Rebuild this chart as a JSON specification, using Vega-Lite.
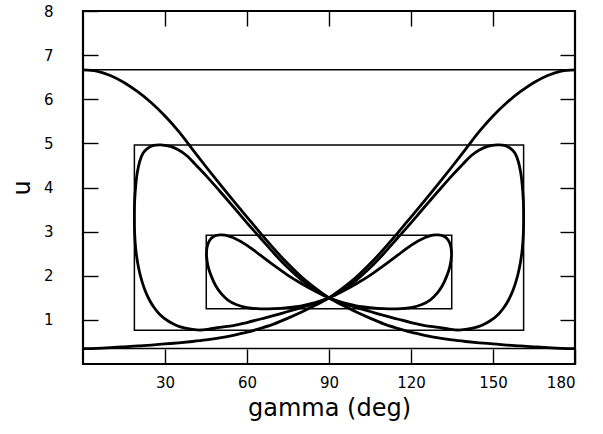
{
  "$schema": "https://vega.github.io/schema/vega-lite/v6.json",
  "autosize": "none",
  "width": 492,
  "height": 353,
  "padding": {"left": 83, "top": 11, "right": 28, "bottom": 70},
  "config": {
    "font": "DejaVu Sans",
    "view": {"stroke": "black", "strokeWidth": 2.2},
    "axis": {
      "domain": false,
      "grid": false,
      "tickColor": "black",
      "tickWidth": 1.4,
      "tickSize": -15,
      "labelColor": "black",
      "labelFont": "DejaVu Sans",
      "labelFontSize": 15,
      "titleColor": "black",
      "titleFont": "DejaVu Sans",
      "titleFontSize": 24,
      "titleFontWeight": "normal"
    }
  },
  "datasets": {
    "boxes": [
      {"box": "outer", "g0": 0, "g1": 180, "u0": 0.35, "u1": 6.667},
      {"box": "middle", "g0": 18.8, "g1": 161.2, "u0": 0.765, "u1": 4.965},
      {"box": "inner", "g0": 45.1, "g1": 134.9, "u0": 1.25, "u1": 2.92}
    ],
    "curves": [
      {"curve": "A", "i": 0, "gamma": 0, "u": 6.667},
      {"curve": "A", "i": 1, "gamma": 5, "u": 6.64},
      {"curve": "A", "i": 2, "gamma": 10, "u": 6.54},
      {"curve": "A", "i": 3, "gamma": 15, "u": 6.38},
      {"curve": "A", "i": 4, "gamma": 20, "u": 6.17},
      {"curve": "A", "i": 5, "gamma": 25, "u": 5.92},
      {"curve": "A", "i": 6, "gamma": 30, "u": 5.62},
      {"curve": "A", "i": 7, "gamma": 35, "u": 5.27},
      {"curve": "A", "i": 8, "gamma": 40, "u": 4.87},
      {"curve": "A", "i": 9, "gamma": 45, "u": 4.47},
      {"curve": "A", "i": 10, "gamma": 50, "u": 4.08},
      {"curve": "A", "i": 11, "gamma": 55, "u": 3.70},
      {"curve": "A", "i": 12, "gamma": 60, "u": 3.33},
      {"curve": "A", "i": 13, "gamma": 65, "u": 2.96},
      {"curve": "A", "i": 14, "gamma": 70, "u": 2.60},
      {"curve": "A", "i": 15, "gamma": 75, "u": 2.27},
      {"curve": "A", "i": 16, "gamma": 80, "u": 1.97},
      {"curve": "A", "i": 17, "gamma": 85, "u": 1.72},
      {"curve": "A", "i": 18, "gamma": 90, "u": 1.50},
      {"curve": "A", "i": 19, "gamma": 95, "u": 1.33},
      {"curve": "A", "i": 20, "gamma": 100, "u": 1.18},
      {"curve": "A", "i": 21, "gamma": 105, "u": 1.04},
      {"curve": "A", "i": 22, "gamma": 110, "u": 0.91},
      {"curve": "A", "i": 23, "gamma": 115, "u": 0.81},
      {"curve": "A", "i": 24, "gamma": 120, "u": 0.72},
      {"curve": "A", "i": 25, "gamma": 125, "u": 0.65},
      {"curve": "A", "i": 26, "gamma": 130, "u": 0.59},
      {"curve": "A", "i": 27, "gamma": 135, "u": 0.545},
      {"curve": "A", "i": 28, "gamma": 140, "u": 0.51},
      {"curve": "A", "i": 29, "gamma": 145, "u": 0.48},
      {"curve": "A", "i": 30, "gamma": 150, "u": 0.455},
      {"curve": "A", "i": 31, "gamma": 155, "u": 0.43},
      {"curve": "A", "i": 32, "gamma": 160, "u": 0.41},
      {"curve": "A", "i": 33, "gamma": 165, "u": 0.39},
      {"curve": "A", "i": 34, "gamma": 170, "u": 0.37},
      {"curve": "A", "i": 35, "gamma": 175, "u": 0.355},
      {"curve": "A", "i": 36, "gamma": 180, "u": 0.35},

      {"curve": "B", "i": 0, "gamma": 180, "u": 6.667},
      {"curve": "B", "i": 1, "gamma": 175, "u": 6.64},
      {"curve": "B", "i": 2, "gamma": 170, "u": 6.54},
      {"curve": "B", "i": 3, "gamma": 165, "u": 6.38},
      {"curve": "B", "i": 4, "gamma": 160, "u": 6.17},
      {"curve": "B", "i": 5, "gamma": 155, "u": 5.92},
      {"curve": "B", "i": 6, "gamma": 150, "u": 5.62},
      {"curve": "B", "i": 7, "gamma": 145, "u": 5.27},
      {"curve": "B", "i": 8, "gamma": 140, "u": 4.87},
      {"curve": "B", "i": 9, "gamma": 135, "u": 4.47},
      {"curve": "B", "i": 10, "gamma": 130, "u": 4.08},
      {"curve": "B", "i": 11, "gamma": 125, "u": 3.70},
      {"curve": "B", "i": 12, "gamma": 120, "u": 3.33},
      {"curve": "B", "i": 13, "gamma": 115, "u": 2.96},
      {"curve": "B", "i": 14, "gamma": 110, "u": 2.60},
      {"curve": "B", "i": 15, "gamma": 105, "u": 2.27},
      {"curve": "B", "i": 16, "gamma": 100, "u": 1.97},
      {"curve": "B", "i": 17, "gamma": 95, "u": 1.72},
      {"curve": "B", "i": 18, "gamma": 90, "u": 1.50},
      {"curve": "B", "i": 19, "gamma": 85, "u": 1.33},
      {"curve": "B", "i": 20, "gamma": 80, "u": 1.18},
      {"curve": "B", "i": 21, "gamma": 75, "u": 1.04},
      {"curve": "B", "i": 22, "gamma": 70, "u": 0.91},
      {"curve": "B", "i": 23, "gamma": 65, "u": 0.81},
      {"curve": "B", "i": 24, "gamma": 60, "u": 0.72},
      {"curve": "B", "i": 25, "gamma": 55, "u": 0.65},
      {"curve": "B", "i": 26, "gamma": 50, "u": 0.59},
      {"curve": "B", "i": 27, "gamma": 45, "u": 0.545},
      {"curve": "B", "i": 28, "gamma": 40, "u": 0.51},
      {"curve": "B", "i": 29, "gamma": 35, "u": 0.48},
      {"curve": "B", "i": 30, "gamma": 30, "u": 0.455},
      {"curve": "B", "i": 31, "gamma": 25, "u": 0.43},
      {"curve": "B", "i": 32, "gamma": 20, "u": 0.41},
      {"curve": "B", "i": 33, "gamma": 15, "u": 0.39},
      {"curve": "B", "i": 34, "gamma": 10, "u": 0.37},
      {"curve": "B", "i": 35, "gamma": 5, "u": 0.355},
      {"curve": "B", "i": 36, "gamma": 0, "u": 0.35},

      {"curve": "M", "i": 0, "gamma": 28.5, "u": 4.965},
      {"curve": "M", "i": 1, "gamma": 32, "u": 4.93},
      {"curve": "M", "i": 2, "gamma": 35, "u": 4.85},
      {"curve": "M", "i": 3, "gamma": 38, "u": 4.72},
      {"curve": "M", "i": 4, "gamma": 41, "u": 4.53},
      {"curve": "M", "i": 5, "gamma": 45, "u": 4.27},
      {"curve": "M", "i": 6, "gamma": 50, "u": 3.92},
      {"curve": "M", "i": 7, "gamma": 56, "u": 3.49},
      {"curve": "M", "i": 8, "gamma": 60, "u": 3.20},
      {"curve": "M", "i": 9, "gamma": 65, "u": 2.85},
      {"curve": "M", "i": 10, "gamma": 70, "u": 2.50},
      {"curve": "M", "i": 11, "gamma": 75, "u": 2.18},
      {"curve": "M", "i": 12, "gamma": 80, "u": 1.90},
      {"curve": "M", "i": 13, "gamma": 85, "u": 1.68},
      {"curve": "M", "i": 14, "gamma": 90, "u": 1.50},
      {"curve": "M", "i": 15, "gamma": 95, "u": 1.38},
      {"curve": "M", "i": 16, "gamma": 100, "u": 1.28},
      {"curve": "M", "i": 17, "gamma": 105, "u": 1.19},
      {"curve": "M", "i": 18, "gamma": 110, "u": 1.10},
      {"curve": "M", "i": 19, "gamma": 115, "u": 1.02},
      {"curve": "M", "i": 20, "gamma": 120, "u": 0.94},
      {"curve": "M", "i": 21, "gamma": 125, "u": 0.87},
      {"curve": "M", "i": 22, "gamma": 130, "u": 0.83},
      {"curve": "M", "i": 23, "gamma": 134, "u": 0.79},
      {"curve": "M", "i": 24, "gamma": 137, "u": 0.77},
      {"curve": "M", "i": 25, "gamma": 140, "u": 0.785},
      {"curve": "M", "i": 26, "gamma": 143, "u": 0.82},
      {"curve": "M", "i": 27, "gamma": 146, "u": 0.88},
      {"curve": "M", "i": 28, "gamma": 149, "u": 0.98},
      {"curve": "M", "i": 29, "gamma": 152, "u": 1.13},
      {"curve": "M", "i": 30, "gamma": 154, "u": 1.28},
      {"curve": "M", "i": 31, "gamma": 155.7, "u": 1.45},
      {"curve": "M", "i": 32, "gamma": 157.5, "u": 1.70},
      {"curve": "M", "i": 33, "gamma": 159, "u": 2.0},
      {"curve": "M", "i": 34, "gamma": 160, "u": 2.29},
      {"curve": "M", "i": 35, "gamma": 160.7, "u": 2.6},
      {"curve": "M", "i": 36, "gamma": 161.1, "u": 2.95},
      {"curve": "M", "i": 37, "gamma": 161.2, "u": 3.3},
      {"curve": "M", "i": 38, "gamma": 161.1, "u": 3.7},
      {"curve": "M", "i": 39, "gamma": 160.7, "u": 4.05},
      {"curve": "M", "i": 40, "gamma": 160.1, "u": 4.35},
      {"curve": "M", "i": 41, "gamma": 159.2, "u": 4.6},
      {"curve": "M", "i": 42, "gamma": 158, "u": 4.78},
      {"curve": "M", "i": 43, "gamma": 156.5, "u": 4.88},
      {"curve": "M", "i": 44, "gamma": 154.5, "u": 4.95},
      {"curve": "M", "i": 45, "gamma": 151.5, "u": 4.965},
      {"curve": "M", "i": 46, "gamma": 148, "u": 4.93},
      {"curve": "M", "i": 47, "gamma": 145, "u": 4.85},
      {"curve": "M", "i": 48, "gamma": 142, "u": 4.72},
      {"curve": "M", "i": 49, "gamma": 139, "u": 4.53},
      {"curve": "M", "i": 50, "gamma": 135, "u": 4.27},
      {"curve": "M", "i": 51, "gamma": 130, "u": 3.92},
      {"curve": "M", "i": 52, "gamma": 124, "u": 3.49},
      {"curve": "M", "i": 53, "gamma": 120, "u": 3.20},
      {"curve": "M", "i": 54, "gamma": 115, "u": 2.85},
      {"curve": "M", "i": 55, "gamma": 110, "u": 2.50},
      {"curve": "M", "i": 56, "gamma": 105, "u": 2.18},
      {"curve": "M", "i": 57, "gamma": 100, "u": 1.90},
      {"curve": "M", "i": 58, "gamma": 95, "u": 1.68},
      {"curve": "M", "i": 59, "gamma": 90, "u": 1.50},
      {"curve": "M", "i": 60, "gamma": 85, "u": 1.38},
      {"curve": "M", "i": 61, "gamma": 80, "u": 1.28},
      {"curve": "M", "i": 62, "gamma": 75, "u": 1.19},
      {"curve": "M", "i": 63, "gamma": 70, "u": 1.10},
      {"curve": "M", "i": 64, "gamma": 65, "u": 1.02},
      {"curve": "M", "i": 65, "gamma": 60, "u": 0.94},
      {"curve": "M", "i": 66, "gamma": 55, "u": 0.87},
      {"curve": "M", "i": 67, "gamma": 50, "u": 0.83},
      {"curve": "M", "i": 68, "gamma": 46, "u": 0.79},
      {"curve": "M", "i": 69, "gamma": 43, "u": 0.77},
      {"curve": "M", "i": 70, "gamma": 40, "u": 0.785},
      {"curve": "M", "i": 71, "gamma": 37, "u": 0.82},
      {"curve": "M", "i": 72, "gamma": 34, "u": 0.88},
      {"curve": "M", "i": 73, "gamma": 31, "u": 0.98},
      {"curve": "M", "i": 74, "gamma": 28, "u": 1.13},
      {"curve": "M", "i": 75, "gamma": 26, "u": 1.28},
      {"curve": "M", "i": 76, "gamma": 24.3, "u": 1.45},
      {"curve": "M", "i": 77, "gamma": 22.5, "u": 1.70},
      {"curve": "M", "i": 78, "gamma": 21, "u": 2.0},
      {"curve": "M", "i": 79, "gamma": 20, "u": 2.29},
      {"curve": "M", "i": 80, "gamma": 19.3, "u": 2.6},
      {"curve": "M", "i": 81, "gamma": 18.9, "u": 2.95},
      {"curve": "M", "i": 82, "gamma": 18.8, "u": 3.3},
      {"curve": "M", "i": 83, "gamma": 18.9, "u": 3.7},
      {"curve": "M", "i": 84, "gamma": 19.3, "u": 4.05},
      {"curve": "M", "i": 85, "gamma": 19.9, "u": 4.35},
      {"curve": "M", "i": 86, "gamma": 20.8, "u": 4.6},
      {"curve": "M", "i": 87, "gamma": 22, "u": 4.78},
      {"curve": "M", "i": 88, "gamma": 23.5, "u": 4.88},
      {"curve": "M", "i": 89, "gamma": 25.5, "u": 4.95},
      {"curve": "M", "i": 90, "gamma": 28.5, "u": 4.965},

      {"curve": "N", "i": 0, "gamma": 50, "u": 2.925},
      {"curve": "N", "i": 1, "gamma": 52, "u": 2.92},
      {"curve": "N", "i": 2, "gamma": 55, "u": 2.86},
      {"curve": "N", "i": 3, "gamma": 60, "u": 2.69},
      {"curve": "N", "i": 4, "gamma": 65, "u": 2.46},
      {"curve": "N", "i": 5, "gamma": 70, "u": 2.23},
      {"curve": "N", "i": 6, "gamma": 75, "u": 2.01},
      {"curve": "N", "i": 7, "gamma": 80, "u": 1.82},
      {"curve": "N", "i": 8, "gamma": 85, "u": 1.65},
      {"curve": "N", "i": 9, "gamma": 90, "u": 1.50},
      {"curve": "N", "i": 10, "gamma": 95, "u": 1.39},
      {"curve": "N", "i": 11, "gamma": 100, "u": 1.32},
      {"curve": "N", "i": 12, "gamma": 105, "u": 1.28},
      {"curve": "N", "i": 13, "gamma": 110, "u": 1.255},
      {"curve": "N", "i": 14, "gamma": 115, "u": 1.25},
      {"curve": "N", "i": 15, "gamma": 120, "u": 1.28},
      {"curve": "N", "i": 16, "gamma": 124, "u": 1.35},
      {"curve": "N", "i": 17, "gamma": 127, "u": 1.45},
      {"curve": "N", "i": 18, "gamma": 129.5, "u": 1.60},
      {"curve": "N", "i": 19, "gamma": 131.5, "u": 1.78},
      {"curve": "N", "i": 20, "gamma": 133, "u": 1.98},
      {"curve": "N", "i": 21, "gamma": 134.2, "u": 2.2},
      {"curve": "N", "i": 22, "gamma": 134.8, "u": 2.45},
      {"curve": "N", "i": 23, "gamma": 134.6, "u": 2.65},
      {"curve": "N", "i": 24, "gamma": 133.7, "u": 2.8},
      {"curve": "N", "i": 25, "gamma": 132.2, "u": 2.89},
      {"curve": "N", "i": 26, "gamma": 130, "u": 2.925},
      {"curve": "N", "i": 27, "gamma": 128, "u": 2.92},
      {"curve": "N", "i": 28, "gamma": 125, "u": 2.86},
      {"curve": "N", "i": 29, "gamma": 120, "u": 2.69},
      {"curve": "N", "i": 30, "gamma": 115, "u": 2.46},
      {"curve": "N", "i": 31, "gamma": 110, "u": 2.23},
      {"curve": "N", "i": 32, "gamma": 105, "u": 2.01},
      {"curve": "N", "i": 33, "gamma": 100, "u": 1.82},
      {"curve": "N", "i": 34, "gamma": 95, "u": 1.65},
      {"curve": "N", "i": 35, "gamma": 90, "u": 1.50},
      {"curve": "N", "i": 36, "gamma": 85, "u": 1.39},
      {"curve": "N", "i": 37, "gamma": 80, "u": 1.32},
      {"curve": "N", "i": 38, "gamma": 75, "u": 1.28},
      {"curve": "N", "i": 39, "gamma": 70, "u": 1.255},
      {"curve": "N", "i": 40, "gamma": 65, "u": 1.25},
      {"curve": "N", "i": 41, "gamma": 60, "u": 1.28},
      {"curve": "N", "i": 42, "gamma": 56, "u": 1.35},
      {"curve": "N", "i": 43, "gamma": 53, "u": 1.45},
      {"curve": "N", "i": 44, "gamma": 50.5, "u": 1.60},
      {"curve": "N", "i": 45, "gamma": 48.5, "u": 1.78},
      {"curve": "N", "i": 46, "gamma": 47, "u": 1.98},
      {"curve": "N", "i": 47, "gamma": 45.8, "u": 2.2},
      {"curve": "N", "i": 48, "gamma": 45.2, "u": 2.45},
      {"curve": "N", "i": 49, "gamma": 45.4, "u": 2.65},
      {"curve": "N", "i": 50, "gamma": 46.3, "u": 2.8},
      {"curve": "N", "i": 51, "gamma": 47.8, "u": 2.89},
      {"curve": "N", "i": 52, "gamma": 50, "u": 2.925}
    ]
  },
  "layer": [
    {
      "data": {"name": "boxes"},
      "mark": {"type": "rect", "fill": null, "stroke": "black", "strokeWidth": 1.5},
      "encoding": {
        "x": {
          "field": "g0", "type": "quantitative",
          "scale": {"domain": [0, 180], "nice": false, "zero": false},
          "axis": {"orient": "bottom", "values": [30, 60, 90, 120, 150, 180], "title": "gamma (deg)", "labelPadding": 26, "titlePadding": 6}
        },
        "x2": {"field": "g1"},
        "y": {
          "field": "u0", "type": "quantitative",
          "scale": {"domain": [0, 8], "nice": false, "zero": false},
          "axis": {"orient": "left", "values": [1, 2, 3, 4, 5, 6, 7, 8], "title": "u", "labelPadding": 45, "titlePadding": 9}
        },
        "y2": {"field": "u1"}
      }
    },
    {
      "data": {"name": "curves"},
      "mark": {"type": "line", "color": "black", "strokeWidth": 2.8, "interpolate": "catmull-rom", "strokeJoin": "round"},
      "encoding": {
        "x": {"field": "gamma", "type": "quantitative", "axis": {"orient": "top", "values": [30, 60, 90, 120, 150], "labels": false, "title": null}},
        "y": {"field": "u", "type": "quantitative", "axis": {"orient": "right", "values": [1, 2, 3, 4, 5, 6, 7], "labels": false, "title": null}},
        "detail": {"field": "curve"},
        "order": {"field": "i", "type": "quantitative"}
      }
    }
  ]
}
